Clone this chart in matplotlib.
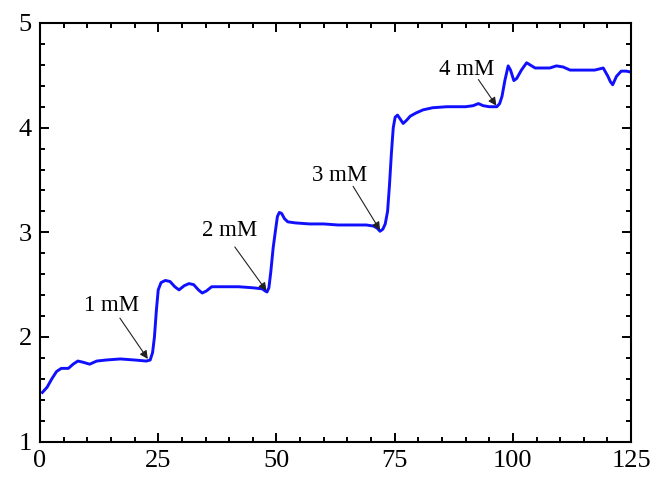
import numpy as np
import matplotlib.pyplot as plt
from matplotlib.ticker import MultipleLocator

# trace
t = [0.5, 1.5, 2.5, 3.5, 4.5, 6, 7, 8, 9, 10.5, 12, 14, 17, 20, 22.5, 23.3, 23.8, 24.2, 24.6,
     25, 25.6, 26.5, 27.5, 28.5, 29.4, 30.5, 31.5, 32.5, 33.5, 34.3, 35.2, 36.3, 38, 42, 45,
     47, 47.6, 48, 48.4, 48.8, 49.3, 49.8, 50.2, 50.6, 51.1, 51.7, 52.4, 54, 57, 60, 63, 66,
     69, 70.5, 71.3, 71.9, 72.5, 73, 73.5, 73.9, 74.3, 74.7, 75.1, 75.6, 76.2, 76.8, 77.5,
     78.3, 79.5, 81, 83, 86, 90, 91.6, 92.7, 93.7, 95, 96.6, 97.2, 97.7, 98.3, 99.0, 99.5,
     100.2, 100.8, 101.8, 102.9, 104.7, 106, 107.8, 109.2, 110.6, 112.1, 115, 117.3, 119.1,
     120.1, 120.6, 121.1, 121.9, 122.9, 124.0, 125]
signal = [1.47, 1.52, 1.60, 1.67, 1.70, 1.70, 1.74, 1.77, 1.76, 1.74, 1.77, 1.78, 1.79, 1.78,
          1.77, 1.78, 1.85, 2.00, 2.25, 2.45, 2.52, 2.54, 2.53, 2.48, 2.45, 2.49, 2.51, 2.50,
          2.45, 2.42, 2.44, 2.48, 2.48, 2.48, 2.47, 2.46, 2.44, 2.43, 2.47, 2.62, 2.85, 3.02,
          3.15, 3.19, 3.18, 3.13, 3.10, 3.09, 3.08, 3.08, 3.07, 3.07, 3.07, 3.06, 3.04, 3.01,
          3.03, 3.08, 3.20, 3.45, 3.75, 4.00, 4.10, 4.12, 4.08, 4.04, 4.07, 4.11, 4.14, 4.17,
          4.19, 4.20, 4.20, 4.21, 4.23, 4.21, 4.20, 4.20, 4.23, 4.30, 4.45, 4.59, 4.55, 4.45,
          4.47, 4.55, 4.62, 4.57, 4.57, 4.57, 4.59, 4.58, 4.55, 4.55, 4.55, 4.57, 4.49, 4.44,
          4.41, 4.49, 4.54, 4.54, 4.53]

labels = ["1 mM", "2 mM", "3 mM", "4 mM"]
label_xy = [(15.2, 2.30), (40.2, 3.02), (63.4, 3.54), (90.2, 4.56)]
tail_xy = [(16.9, 2.18), (41.2, 2.86), (66.2, 3.44), (92.7, 4.46)]
tip_xy = [(22.8, 1.79), (47.9, 2.44), (71.9, 3.02), (96.5, 4.21)]

plt.rcParams['font.family'] = ['Liberation Serif', 'DejaVu Serif']

fig = plt.figure(figsize=(6.59, 4.79), dpi=100)
ax = fig.add_axes([0.0607, 0.078, 0.897, 0.874])
ax.plot(t, signal, color='#1010ff', lw=2.1)

for lab, (lx, ly), (ax0, ay0), (tx, ty) in zip(labels, label_xy, tail_xy, tip_xy):
    ax.text(lx, ly, lab, fontsize=16.5, ha='center', va='center')
    ax.annotate("", xy=(tx, ty), xytext=(ax0, ay0),
                arrowprops=dict(arrowstyle='-|>', color='#222222', lw=0.8,
                                mutation_scale=12, shrinkA=0, shrinkB=0))

ax.set_xlim(0, 125)
ax.set_ylim(1, 5)
ax.xaxis.set_major_locator(MultipleLocator(25))
ax.xaxis.set_minor_locator(MultipleLocator(5))
ax.yaxis.set_major_locator(MultipleLocator(1))
ax.yaxis.set_minor_locator(MultipleLocator(0.2))
ax.tick_params(which='both', direction='in', top=True, right=True, width=1.4)
ax.tick_params(which='major', length=6.5, labelsize=19, pad=6)
ax.tick_params(which='minor', length=3.5)
for s in ax.spines.values():
    s.set_linewidth(1.5)

fig.savefig("out.png", dpi=100)
